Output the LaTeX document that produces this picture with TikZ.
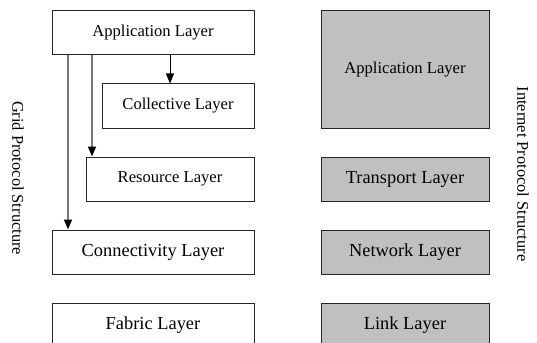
\documentclass[tikz,border=0pt]{standalone}
\usepackage{fontspec}
\setmainfont{Liberation Serif}
\usetikzlibrary{arrows.meta}
\definecolor{boxgray}{RGB}{192,192,192}
\definecolor{linegray}{RGB}{120,120,120}
\begin{document}
\begin{tikzpicture}[x=1pt,y=-1pt,
  layer/.style={draw=black!85,line width=1pt,rectangle,inner sep=0pt,anchor=center},
  gridbox/.style={layer,fill=white},
  inetbox/.style={layer,fill=boxgray},
  smalltxt/.style={font=\fontsize{16.6}{18}\selectfont},
  bigtxt/.style={font=\fontsize{18.4}{20}\selectfont},
  sidelabel/.style={font=\fontsize{16.4}{18}\selectfont,rotate=-90,inner sep=0pt},
  tip/.style={-{Triangle[width=8pt,length=10pt,color=black,fill=black]}},
  longarrow/.style={tip,draw=linegray,line width=1.5pt},
  shortarrow/.style={tip,draw=black,line width=1pt}]
\useasboundingbox (0,0) rectangle (537,342);
% grid protocol stack
\node[gridbox,smalltxt,minimum width=202pt,minimum height=44pt] (gapp) at (153,33) {Application Layer};
\node[gridbox,smalltxt,minimum width=152pt,minimum height=44pt] (gcol) at (178,106) {Collective Layer};
\node[gridbox,smalltxt,minimum width=168pt,minimum height=44pt] (gres) at (170,179) {Resource Layer};
\node[gridbox,bigtxt,minimum width=202pt,minimum height=44pt] (gcon) at (153,252) {Connectivity Layer};
\node[gridbox,bigtxt,minimum width=202pt,minimum height=44pt] (gfab) at (153,325) {Fabric Layer};
% internet protocol stack
\node[inetbox,smalltxt,minimum width=168pt,minimum height=117pt] (iapp) at (405,69.5) {Application Layer};
\node[inetbox,bigtxt,minimum width=168pt,minimum height=44pt] (itra) at (405,179) {Transport Layer};
\node[inetbox,bigtxt,minimum width=168pt,minimum height=44pt] (inet) at (405,252) {Network Layer};
\node[inetbox,bigtxt,minimum width=168pt,minimum height=44pt] (ilnk) at (405,325) {Link Layer};
% side labels
\node[sidelabel] (glabel) at (18,178) {Grid Protocol Structure};
\node[sidelabel] (ilabel) at (523,174) {Internet Protocol Structure};
% arrows
\draw[shortarrow] (gapp.south -| gcol.north) ++(-8,0) coordinate (a1) -- (a1 |- gcol.north);
\draw[longarrow] (92,55) coordinate (a2) -- (a2 |- gres.north);
\draw[longarrow] (68,55) coordinate (a3) -- (a3 |- gcon.north);
\end{tikzpicture}
\end{document}
